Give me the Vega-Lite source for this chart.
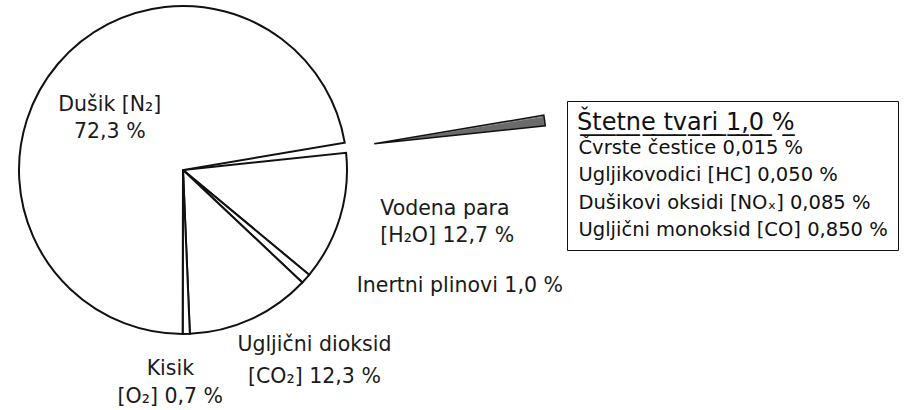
{
  "$schema": "https://vega.github.io/schema/vega-lite/v6.json",
  "width": 923,
  "height": 410,
  "autosize": {"type": "none"},
  "padding": 0,
  "background": "white",
  "config": {"view": {"stroke": null}},
  "params": [
    {"name": "cx", "value": 183},
    {"name": "cy", "value": 170},
    {"name": "explode", "value": 193},
    {"name": "midAngle", "value": 1.4347}
  ],
  "datasets": {
    "gases": [
      {"idx": 1, "gas": "Štetne tvari", "value": 1.0, "label": ""},
      {"idx": 2, "gas": "Vodena para", "value": 12.7, "label": "Vodena para\n[H₂O] 12,7 %"},
      {"idx": 3, "gas": "Inertni plinovi", "value": 1.0, "label": "Inertni plinovi 1,0 %"},
      {"idx": 4, "gas": "Ugljični dioksid", "value": 12.3, "label": "Ugljični dioksid\n[CO₂] 12,3 %"},
      {"idx": 5, "gas": "Kisik", "value": 0.7, "label": "Kisik\n[O₂] 0,7 %"},
      {"idx": 6, "gas": "Dušik", "value": 72.3, "label": "Dušik [N₂]\n72,3 %"}
    ],
    "harmful": [
      {"idx": 1, "component": "Čvrste čestice 0,015 %", "value": 0.015},
      {"idx": 2, "component": "Ugljikovodici [HC] 0,050 %", "value": 0.05},
      {"idx": 3, "component": "Dušikovi oksidi [NOₓ] 0,085 %", "value": 0.085},
      {"idx": 4, "component": "Ugljični monoksid [CO] 0,850 %", "value": 0.85}
    ]
  },
  "layer": [
    {
      "data": {"name": "gases"},
      "mark": {"type": "arc", "x": {"expr": "cx"}, "y": {"expr": "cy"}, "outerRadius": 164, "fill": "white", "stroke": "#111111", "strokeWidth": 2},
      "encoding": {
        "theta": {"field": "value", "type": "quantitative", "stack": true, "scale": {"range": [1.40324, 7.68643]}},
        "order": {"field": "idx", "type": "quantitative"},
        "opacity": {"condition": {"test": "datum.gas === 'Štetne tvari'", "value": 0}, "value": 1}
      }
    },
    {
      "data": {"name": "harmful"},
      "mark": {"type": "arc", "x": {"expr": "cx + explode*sin(midAngle)"}, "y": {"expr": "cy - explode*cos(midAngle)"}, "outerRadius": 172, "strokeWidth": 0},
      "encoding": {
        "theta": {"field": "value", "type": "quantitative", "stack": true, "scale": {"range": [1.40324, 7.68643]}},
        "order": {"field": "idx", "type": "quantitative"},
        "fill": {
          "field": "component", "type": "nominal", "sort": null,
          "scale": {"range": ["#6b6b6b"]},
          "legend": {
            "orient": "none", "legendX": 567, "legendY": 101,
            "title": "Š\u0332t\u0332e\u0332t\u0332n\u0332e\u0332 \u0332t\u0332v\u0332a\u0332r\u0332i\u0332 \u03321\u0332,\u03320\u0332 \u0332%\u0332\u00a0\u00a0\u00a0\u00a0\u00a0\u00a0\u00a0\u00a0\u00a0\u00a0\u00a0\u00a0\u00a0\u00a0\u00a0",
            "titleFont": "DejaVu Sans", "titleFontSize": 24, "titleFontWeight": "normal", "titleColor": "#111111",
            "titlePadding": 3, "titleLimit": 600,
            "labelFont": "DejaVu Sans", "labelFontSize": 19.5, "labelColor": "#111111", "labelLimit": 600, "labelOffset": -18,
            "symbolSize": 1, "symbolOpacity": 0, "symbolStrokeWidth": 0,
            "rowPadding": 6.5, "padding": 10,
            "strokeColor": "#111111", "fillColor": "white", "cornerRadius": 0
          }
        }
      }
    },
    {
      "data": {"name": "gases"},
      "transform": [{"filter": "datum.gas === 'Štetne tvari'"}],
      "mark": {"type": "arc", "x": {"expr": "cx + explode*sin(midAngle)"}, "y": {"expr": "cy - explode*cos(midAngle)"}, "outerRadius": 172, "fillOpacity": 0, "stroke": "#111111", "strokeWidth": 1.5},
      "encoding": {
        "theta": {"field": "value", "type": "quantitative", "stack": true, "scale": {"range": [1.40324, 7.68643]}},
        "order": {"field": "idx", "type": "quantitative"}
      }
    },
    {
      "data": {"name": "gases"},
      "mark": {"type": "text", "x": {"expr": "cx"}, "y": {"expr": "cy"}, "radius": 92, "dx": -3, "dy": -5.5, "align": "center", "baseline": "middle", "lineBreak": "\n", "lineHeight": 27, "font": "DejaVu Sans", "fontSize": 20.5, "color": "#1a1a1a"},
      "encoding": {
        "theta": {"field": "value", "type": "quantitative", "stack": true, "scale": {"range": [1.40324, 7.68643]}},
        "order": {"field": "idx", "type": "quantitative"},
        "text": {"condition": {"test": "datum.gas === 'Dušik'", "field": "label"}, "value": ""}
      }
    },
    {
      "data": {"name": "gases"},
      "mark": {"type": "text", "x": {"expr": "cx"}, "y": {"expr": "cy"}, "radius": 204, "dx": 2, "dy": -20.5, "align": "left", "baseline": "middle", "lineBreak": "\n", "lineHeight": 27, "font": "DejaVu Sans", "fontSize": 20.5, "color": "#1a1a1a"},
      "encoding": {
        "theta": {"field": "value", "type": "quantitative", "stack": true, "scale": {"range": [1.40324, 7.68643]}},
        "order": {"field": "idx", "type": "quantitative"},
        "text": {"condition": {"test": "datum.gas === 'Vodena para'", "field": "label"}, "value": ""}
      }
    },
    {
      "data": {"name": "gases"},
      "mark": {"type": "text", "x": {"expr": "cx"}, "y": {"expr": "cy"}, "radius": 200, "dx": 24, "dy": -17, "align": "left", "baseline": "middle", "lineBreak": "\n", "lineHeight": 27, "font": "DejaVu Sans", "fontSize": 20.5, "color": "#1a1a1a"},
      "encoding": {
        "theta": {"field": "value", "type": "quantitative", "stack": true, "scale": {"range": [1.40324, 7.68643]}},
        "order": {"field": "idx", "type": "quantitative"},
        "text": {"condition": {"test": "datum.gas === 'Inertni plinovi'", "field": "label"}, "value": ""}
      }
    },
    {
      "data": {"name": "gases"},
      "mark": {"type": "text", "x": {"expr": "cx"}, "y": {"expr": "cy"}, "radius": 225, "dx": 38, "dy": -30, "align": "center", "baseline": "middle", "lineBreak": "\n", "lineHeight": 32, "font": "DejaVu Sans", "fontSize": 20.5, "color": "#1a1a1a"},
      "encoding": {
        "theta": {"field": "value", "type": "quantitative", "stack": true, "scale": {"range": [1.40324, 7.68643]}},
        "order": {"field": "idx", "type": "quantitative"},
        "text": {"condition": {"test": "datum.gas === 'Ugljični dioksid'", "field": "label"}, "value": ""}
      }
    },
    {
      "data": {"name": "gases"},
      "mark": {"type": "text", "x": {"expr": "cx"}, "y": {"expr": "cy"}, "radius": 217, "dx": -17, "dy": -18, "align": "center", "baseline": "middle", "lineBreak": "\n", "lineHeight": 28, "font": "DejaVu Sans", "fontSize": 20.5, "color": "#1a1a1a"},
      "encoding": {
        "theta": {"field": "value", "type": "quantitative", "stack": true, "scale": {"range": [1.40324, 7.68643]}},
        "order": {"field": "idx", "type": "quantitative"},
        "text": {"condition": {"test": "datum.gas === 'Kisik'", "field": "label"}, "value": ""}
      }
    }
  ]
}
